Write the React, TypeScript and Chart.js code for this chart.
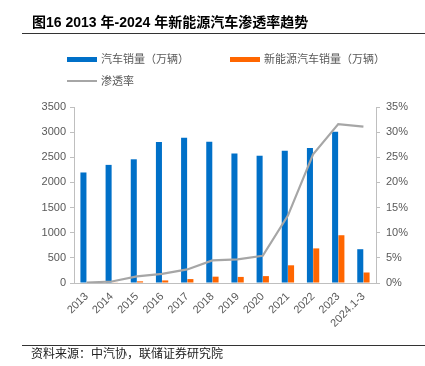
import React, { useEffect, useRef } from "react";
import { Chart, registerables } from "chart.js";

Chart.register(...registerables);

const categories = ["2013", "2014", "2015", "2016", "2017", "2018", "2019", "2020", "2021", "2022", "2023", "2024.1-3"];
const totalSales = [2198, 2349, 2460, 2803, 2888, 2808, 2576, 2531, 2628, 2686, 3009, 672];
const nevSales = [1.8, 7.5, 33, 51, 78, 126, 121, 137, 352, 688, 950, 209];
const penetration = [0.1, 0.3, 1.3, 1.8, 2.7, 4.5, 4.7, 5.4, 13.4, 25.6, 31.6, 31.1];

const leftTicks = [0, 500, 1000, 1500, 2000, 2500, 3000, 3500];
const rightTicks = [0, 5, 10, 15, 20, 25, 30, 35];

const titleText = "图16 2013 年-2024 年新能源汽车渗透率趋势";
const sourceText = "资料来源：中汽协，联储证券研究院";
const legendTotal = "汽车销量（万辆）";
const legendNev = "新能源汽车销量（万辆）";
const legendRate = "渗透率";

const BLUE = "#0070C8";
const ORANGE = "#FF6600";
const GRAY = "#A6A6A6";
const AXIS = "#BFBFBF";
const TEXT = "#595959";
const FONT = "'Liberation Sans', 'Noto Sans CJK SC', sans-serif";

export default function App() {
  const ref = useRef<HTMLCanvasElement | null>(null);

  useEffect(() => {
    if (!ref.current) return;
    const chart = new Chart(ref.current, {
      type: "bar",
      data: {
        labels: categories,
        datasets: [
          {
            type: "line",
            label: legendRate,
            data: penetration,
            yAxisID: "y1",
            borderColor: GRAY,
            backgroundColor: GRAY,
            borderWidth: 2.2,
            pointRadius: 0,
            tension: 0,
            order: 0,
          },
          {
            type: "bar",
            label: legendTotal,
            data: totalSales,
            yAxisID: "y",
            backgroundColor: BLUE,
            categoryPercentage: 0.5,
            barPercentage: 0.96,
            order: 1,
          },
          {
            type: "bar",
            label: legendNev,
            data: nevSales,
            yAxisID: "y",
            backgroundColor: ORANGE,
            categoryPercentage: 0.5,
            barPercentage: 0.96,
            order: 1,
          },
        ],
      },
      options: {
        responsive: false,
        animation: false,
        devicePixelRatio: 1,
        layout: { padding: { top: 107, left: 0, right: 0, bottom: 0 } },
        plugins: {
          legend: { display: false },
          tooltip: { enabled: false },
          title: { display: false },
        },
        scales: {
          x: {
            offset: true,
            grid: { display: false, drawTicks: false },
            border: { display: true, color: AXIS, width: 1 },
            ticks: {
              minRotation: 45,
              maxRotation: 45,
              autoSkip: false,
              padding: 7,
              color: TEXT,
              font: { family: FONT, size: 11 },
            },
            afterFit: (s: any) => {
              s.height = 83;
            },
          },
          y: {
            position: "left",
            min: 0,
            max: 3500,
            afterBuildTicks: (s: any) => {
              s.ticks = leftTicks.map((v) => ({ value: v }));
            },
            grid: { display: true, drawOnChartArea: false, drawTicks: true, tickLength: 4, color: AXIS },
            border: { display: true, color: AXIS, width: 1 },
            ticks: {
              padding: 4,
              color: TEXT,
              font: { family: FONT, size: 11 },
              callback: (v: any) => String(v),
            },
            afterFit: (s: any) => {
              s.width = 74;
            },
          },
          y1: {
            position: "right",
            min: 0,
            max: 35,
            afterBuildTicks: (s: any) => {
              s.ticks = rightTicks.map((v) => ({ value: v }));
            },
            grid: { display: true, drawOnChartArea: false, drawTicks: true, tickLength: 4, color: AXIS },
            border: { display: true, color: AXIS, width: 1 },
            ticks: {
              padding: 6,
              color: TEXT,
              font: { family: FONT, size: 11 },
              callback: (v: any) => v + "%",
            },
            afterFit: (s: any) => {
              s.width = 49;
            },
          },
        },
      },
    });
    return () => chart.destroy();
  }, []);

  const abs = (style: React.CSSProperties): React.CSSProperties => ({ position: "absolute", ...style });

  return (
    <div style={{ position: "fixed", left: 0, top: 0, width: 425, height: 366, background: "#fff", overflow: "hidden" }}>
      <canvas ref={ref} width={425} height={366} style={abs({ left: 0, top: 0, width: 425, height: 366 })} />
      <div
        style={abs({
          left: 32,
          top: 14,
          fontFamily: FONT,
          fontWeight: "bold",
          fontSize: 14,
          lineHeight: "16px",
          color: "#000",
          whiteSpace: "nowrap",
        })}
      >
        {titleText}
      </div>
      <div style={abs({ left: 22, top: 33, width: 403, height: 1, background: "#333" })} />

      <div style={abs({ left: 67, top: 57, width: 30, height: 5, background: BLUE })} />
      <div style={abs({ left: 101, top: 53, fontFamily: FONT, fontSize: 11, lineHeight: "13px", color: TEXT, whiteSpace: "nowrap" })}>
        {legendTotal}
      </div>
      <div style={abs({ left: 230, top: 57, width: 30, height: 5, background: ORANGE })} />
      <div style={abs({ left: 264, top: 53, fontFamily: FONT, fontSize: 11, lineHeight: "13px", color: TEXT, whiteSpace: "nowrap" })}>
        {legendNev}
      </div>
      <div style={abs({ left: 67, top: 80, width: 30, height: 2, background: GRAY })} />
      <div style={abs({ left: 101, top: 75, fontFamily: FONT, fontSize: 11, lineHeight: "13px", color: TEXT, whiteSpace: "nowrap" })}>
        {legendRate}
      </div>

      <div style={abs({ left: 22, top: 345, width: 403, height: 1, background: "#333" })} />
      <div style={abs({ left: 31, top: 347, fontFamily: FONT, fontSize: 12, lineHeight: "14px", color: "#222", whiteSpace: "nowrap" })}>
        {sourceText}
      </div>
    </div>
  );
}
